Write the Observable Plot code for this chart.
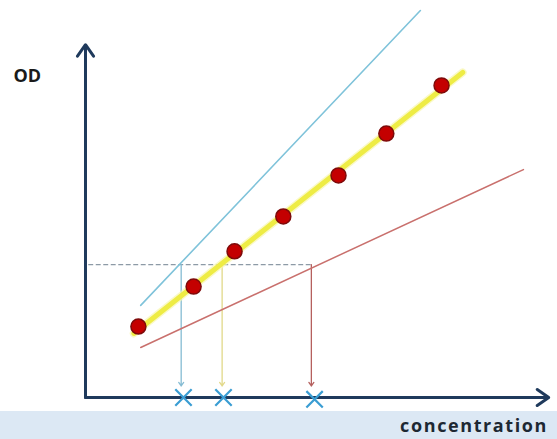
<!DOCTYPE html>
<html>
<head>
<meta charset="utf-8">
<script src="https://cdn.jsdelivr.net/npm/d3@7"></script>
<script src="https://cdn.jsdelivr.net/npm/@observablehq/plot@0.6"></script>
<style>
  html, body { margin: 0; padding: 0; background: #ffffff; }
  #chart svg { display: block; }
  #band {
    width: 557px; height: 28px; background: #dce8f4;
    font-family: "Open Sans", sans-serif; font-weight: 700; font-size: 18px;
    letter-spacing: 1.6px; color: #1d2833; text-align: right;
    line-height: 28px; box-sizing: border-box; padding-right: 9px;
  }
</style>
</head>
<body>
<div id="chart"></div>
<div id="band">concentration</div>
<script>
// Standard curve points (concentration, OD)
const concentration = [1.15, 2.35, 3.24, 4.3, 5.5, 6.54, 7.74];
const od = [1.97, 3.08, 4.06, 5.03, 6.17, 7.33, 8.67];

// Fitted standard line (yellow)
const fitX = [1.05, 8.2];
const fitY = [1.78, 9.03];

// Steeper curve (blue) and flatter curve (red)
const blueX = [1.2, 7.28];
const blueY = [2.56, 10.75];
const redX = [1.2, 9.52];
const redY = [1.39, 6.33];

// Sample OD reading and read-down concentrations
const sampleOD = 3.69;
const dashX = [0.07, 4.93];
const readX = [2.08, 2.97, 4.91];
const readColor = ["#86bcd3", "#e2d98a", "#b5605e"];
const readEnd = 0.32;
const markerX = [2.13, 3.0, 4.98];
const markerY = [0.0, 0.0, -0.05];

// Axis extents
const axisXMax = 10.07;
const axisYMax = 9.8;

const points = concentration.map((c, i) => ({c, od: od[i]}));
const reads = readX.map((x, i) => ({x, color: readColor[i]}));
const markers = markerX.map((x, i) => ({x, y: markerY[i]}));

const chart = Plot.plot({
  width: 557,
  height: 411,
  marginLeft: 85,
  marginRight: 12,
  marginTop: 37,
  marginBottom: 14,
  x: {domain: [0, 10], axis: null},
  y: {domain: [0, 10], axis: null},
  style: {background: "#ffffff", overflow: "visible"},
  marks: [
    // dashed sample OD line
    Plot.line(dashX, {x: d => d, y: () => sampleOD, stroke: "#8d9aa6", strokeWidth: 1.2, strokeDasharray: "4,3.5"}),
    // read-down arrows
    Plot.arrow(reads, {x1: "x", x2: "x", y1: () => sampleOD, y2: () => readEnd, stroke: d => d.color, strokeWidth: 1.3, headLength: 5, headAngle: 70}),
    // blue and red lines
    Plot.line(blueX, {x: d => d, y: (d, i) => blueY[i], stroke: "#7fc3da", strokeWidth: 1.6}),
    Plot.line(redX, {x: d => d, y: (d, i) => redY[i], stroke: "#c9706d", strokeWidth: 1.5}),
    // yellow fitted line with soft glow
    Plot.line(fitX, {x: d => d, y: (d, i) => fitY[i], stroke: "#f8f6b0", strokeWidth: 8, strokeOpacity: 0.7}),
    Plot.line(fitX, {x: d => d, y: (d, i) => fitY[i], stroke: "#eeec45", strokeWidth: 5}),
    // data points
    Plot.dot(points, {x: "c", y: "od", r: 7.5, fill: "#c40000", stroke: "#7d0a0a", strokeWidth: 1.5}),
    // axes with arrow heads
    Plot.arrow([0], {x1: () => 0, y1: () => 0, x2: () => 0, y2: () => axisYMax, stroke: "#1f3a5c", strokeWidth: 3, headLength: 7, headAngle: 70, strokeLinecap: "round"}),
    Plot.arrow([0], {x1: () => 0, y1: () => 0, x2: () => axisXMax, y2: () => 0, stroke: "#1f3a5c", strokeWidth: 3, headLength: 7, headAngle: 70, strokeLinecap: "round"}),
    // X markers on concentration axis
    Plot.dot(markers, {x: "x", y: "y", symbol: "times", r: 7.5, stroke: "#3a9dd3", strokeWidth: 2.2}),
    // OD label
    Plot.text(["OD"], {frameAnchor: "top-left", dx: -72, dy: 32, textAnchor: "start", fontSize: 18, fontWeight: "bold", fontFamily: "Open Sans, sans-serif", fill: "#1a1a1a"})
  ]
});
document.getElementById("chart").appendChild(chart);
</script>
</body>
</html>
